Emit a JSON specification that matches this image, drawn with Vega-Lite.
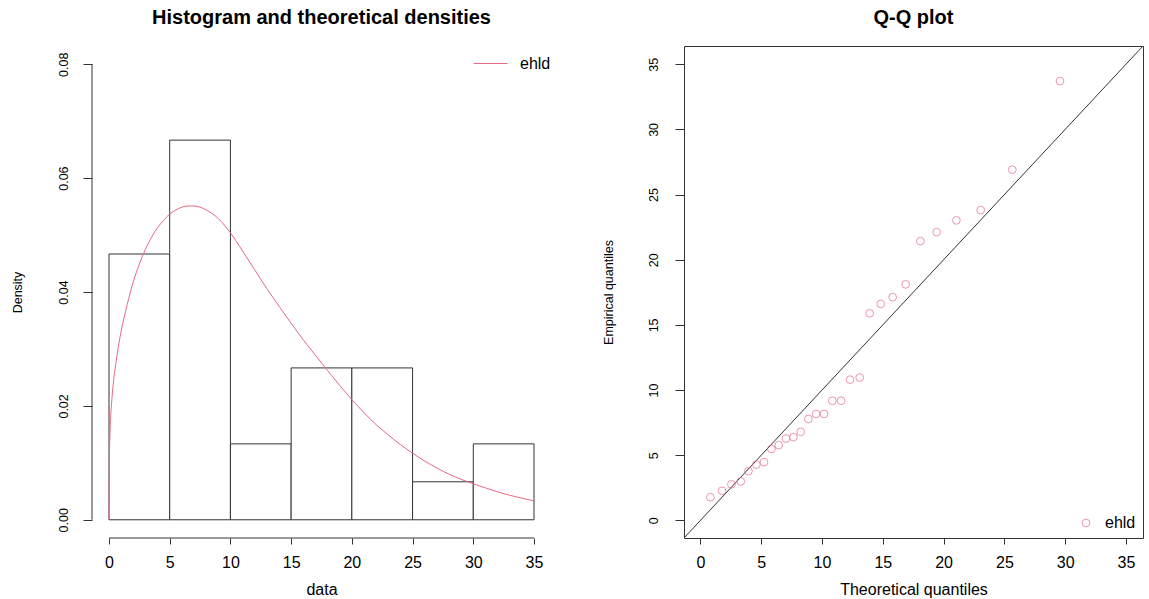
{
  "$schema": "https://vega.github.io/schema/vega-lite/v6.json",
  "autosize": {"type": "pad"},
  "padding": {"left": 11, "top": 7, "right": 7, "bottom": 2},
  "bounds": "flush",
  "spacing": 133,
  "config": {
    "font": "Liberation Sans",
    "view": {"stroke": null},
    "title": {"fontSize": 20, "fontWeight": "bold", "color": "black", "anchor": "middle", "offset": 18},
    "axis": {"grid": false, "labelColor": "black", "titleColor": "black", "titleFontWeight": "normal", "tickColor": "#333", "tickWidth": 1, "domain": false, "labelFont": "Liberation Sans", "titleFont": "Liberation Sans"},
    "axisX": {"tickSize": 6, "labelPadding": 10, "titlePadding": 11, "labelFontSize": 16, "titleFontSize": 16},
    "axisY": {"tickSize": 9, "labelPadding": 13, "labelAngle": -90, "titlePadding": 33, "labelFontSize": 12.5, "titleFontSize": 12.5},
    "legend": {"title": null, "padding": 0, "labelFontSize": 16, "labelColor": "black", "labelFont": "Liberation Sans"}
  },
  "datasets": {
    "hist": [
      {"bin_start": 0, "bin_end": 5, "density": 0.04667},
      {"bin_start": 5, "bin_end": 10, "density": 0.06667},
      {"bin_start": 10, "bin_end": 15, "density": 0.01333},
      {"bin_start": 15, "bin_end": 20, "density": 0.02667},
      {"bin_start": 20, "bin_end": 25, "density": 0.02667},
      {"bin_start": 25, "bin_end": 30, "density": 0.00667},
      {"bin_start": 30, "bin_end": 35, "density": 0.01333}
    ],
    "curve": [
      {"x": 0, "density": 0},
      {"x": 0.03, "density": 0.010},
      {"x": 0.08, "density": 0.015},
      {"x": 0.15, "density": 0.0185},
      {"x": 0.25, "density": 0.0215},
      {"x": 0.4, "density": 0.0248},
      {"x": 0.6, "density": 0.028},
      {"x": 0.8, "density": 0.0308},
      {"x": 1.0, "density": 0.0331},
      {"x": 1.5, "density": 0.0378},
      {"x": 2.0, "density": 0.0418},
      {"x": 2.5, "density": 0.0449},
      {"x": 3.0, "density": 0.0475},
      {"x": 3.5, "density": 0.0496},
      {"x": 4.0, "density": 0.0513},
      {"x": 4.5, "density": 0.0526},
      {"x": 5.0, "density": 0.0537},
      {"x": 5.5, "density": 0.0544},
      {"x": 6.0, "density": 0.0549},
      {"x": 6.5, "density": 0.0551},
      {"x": 7.0, "density": 0.0551},
      {"x": 7.5, "density": 0.0549},
      {"x": 8.0, "density": 0.0544},
      {"x": 9.0, "density": 0.0529},
      {"x": 10.0, "density": 0.0504},
      {"x": 11.0, "density": 0.0472},
      {"x": 12.0, "density": 0.0439},
      {"x": 13.0, "density": 0.0406},
      {"x": 14.0, "density": 0.0375},
      {"x": 15.0, "density": 0.0345},
      {"x": 16.0, "density": 0.0316},
      {"x": 17.0, "density": 0.0289},
      {"x": 18.0, "density": 0.0262},
      {"x": 19.0, "density": 0.0236},
      {"x": 20.0, "density": 0.0211},
      {"x": 21.0, "density": 0.0188},
      {"x": 22.0, "density": 0.0167},
      {"x": 23.0, "density": 0.0149},
      {"x": 24.0, "density": 0.0132},
      {"x": 25.0, "density": 0.0117},
      {"x": 26.0, "density": 0.0103},
      {"x": 27.0, "density": 0.0091},
      {"x": 28.0, "density": 0.0080},
      {"x": 29.0, "density": 0.0071},
      {"x": 30.0, "density": 0.0063},
      {"x": 31.0, "density": 0.0056},
      {"x": 32.0, "density": 0.0049},
      {"x": 33.0, "density": 0.0043},
      {"x": 34.0, "density": 0.0038},
      {"x": 35.0, "density": 0.0033}
    ],
    "qq": [
      {"theoretical": 0.82, "empirical": 1.78},
      {"theoretical": 1.78, "empirical": 2.27},
      {"theoretical": 2.55, "empirical": 2.77},
      {"theoretical": 3.32, "empirical": 2.99},
      {"theoretical": 3.95, "empirical": 3.78},
      {"theoretical": 4.60, "empirical": 4.28},
      {"theoretical": 5.23, "empirical": 4.47},
      {"theoretical": 5.84, "empirical": 5.48},
      {"theoretical": 6.44, "empirical": 5.78},
      {"theoretical": 7.04, "empirical": 6.28},
      {"theoretical": 7.65, "empirical": 6.39},
      {"theoretical": 8.25, "empirical": 6.80},
      {"theoretical": 8.88, "empirical": 7.78},
      {"theoretical": 9.51, "empirical": 8.17},
      {"theoretical": 10.17, "empirical": 8.17},
      {"theoretical": 10.85, "empirical": 9.18},
      {"theoretical": 11.57, "empirical": 9.18},
      {"theoretical": 12.30, "empirical": 10.80},
      {"theoretical": 13.10, "empirical": 10.96},
      {"theoretical": 13.92, "empirical": 15.89},
      {"theoretical": 14.83, "empirical": 16.61},
      {"theoretical": 15.81, "empirical": 17.13},
      {"theoretical": 16.88, "empirical": 18.11},
      {"theoretical": 18.09, "empirical": 21.43},
      {"theoretical": 19.43, "empirical": 22.12},
      {"theoretical": 21.05, "empirical": 23.02},
      {"theoretical": 23.05, "empirical": 23.81},
      {"theoretical": 25.65, "empirical": 26.91},
      {"theoretical": 29.57, "empirical": 33.71}
    ]
  },
  "resolve": {"scale": {"color": "independent"}, "legend": {"color": "independent"}},
  "hconcat": [
    {
      "width": 459,
      "height": 492,
      "title": {"text": "Histogram and theoretical densities"},
      "layer": [
        {
          "data": {"name": "hist"},
          "mark": {"type": "rect", "fill": "white", "stroke": "#333", "strokeWidth": 1},
          "encoding": {
            "x": {"field": "bin_start", "type": "quantitative", "scale": {"domain": [-1.4, 36.4], "nice": false, "zero": false},
                  "axis": {"values": [0, 5, 10, 15, 20, 25, 30, 35], "title": "data"}},
            "x2": {"field": "bin_end"},
            "y": {"field": "density", "type": "quantitative", "scale": {"domain": [-0.0032, 0.0832], "nice": false, "zero": false},
                  "axis": {"values": [0, 0.02, 0.04, 0.06, 0.08], "format": ".2f", "title": "Density"}},
            "y2": {"datum": 0}
          }
        },
        {
          "data": {"name": "curve"},
          "mark": {"type": "line", "strokeWidth": 1, "interpolate": "monotone"},
          "encoding": {
            "x": {"field": "x", "type": "quantitative"},
            "y": {"field": "density", "type": "quantitative"},
            "color": {"datum": "ehld", "type": "nominal", "scale": {"domain": ["ehld"], "range": ["#E66A82"]},
                      "legend": {"orient": "top-right", "offset": 0, "symbolType": "stroke", "symbolSize": 1150, "symbolStrokeWidth": 1, "labelOffset": 12}}
          }
        },
        {
          "data": {"values": [{}]},
          "mark": {"type": "rule", "color": "#333", "strokeWidth": 1},
          "encoding": {"x": {"datum": -1.4}, "y": {"datum": 0}, "y2": {"datum": 0.08}}
        },
        {
          "data": {"values": [{}]},
          "mark": {"type": "rule", "color": "#333", "strokeWidth": 1},
          "encoding": {"y": {"datum": -0.0032}, "x": {"datum": 0}, "x2": {"datum": 35}}
        }
      ]
    },
    {
      "width": 459,
      "height": 492,
      "title": {"text": "Q-Q plot"},
      "view": {"stroke": "#333", "strokeWidth": 1},
      "layer": [
        {
          "data": {"values": [{}]},
          "mark": {"type": "rule", "color": "#333", "strokeWidth": 1},
          "encoding": {
            "x": {"datum": -1.35, "type": "quantitative", "scale": {"domain": [-1.35, 36.4], "nice": false, "zero": false}},
            "y": {"datum": -1.35, "type": "quantitative", "scale": {"domain": [-1.35, 36.4], "nice": false, "zero": false}},
            "x2": {"datum": 36.4},
            "y2": {"datum": 36.4}
          }
        },
        {
          "data": {"name": "qq"},
          "mark": {"type": "point", "shape": "circle", "filled": false, "size": 60, "strokeWidth": 1},
          "encoding": {
            "x": {"field": "theoretical", "type": "quantitative",
                  "axis": {"values": [0, 5, 10, 15, 20, 25, 30, 35], "title": "Theoretical quantiles"}},
            "y": {"field": "empirical", "type": "quantitative",
                  "axis": {"values": [0, 5, 10, 15, 20, 25, 30, 35], "title": "Empirical quantiles", "labelPadding": 15, "titlePadding": 32}},
            "color": {"datum": "ehld", "type": "nominal", "scale": {"domain": ["ehld"], "range": ["#E66A82"]},
                      "legend": {"orient": "bottom-right", "offset": 7, "symbolType": "circle", "symbolSize": 60, "symbolStrokeWidth": 1, "labelOffset": 11}}
          }
        }
      ]
    }
  ]
}
